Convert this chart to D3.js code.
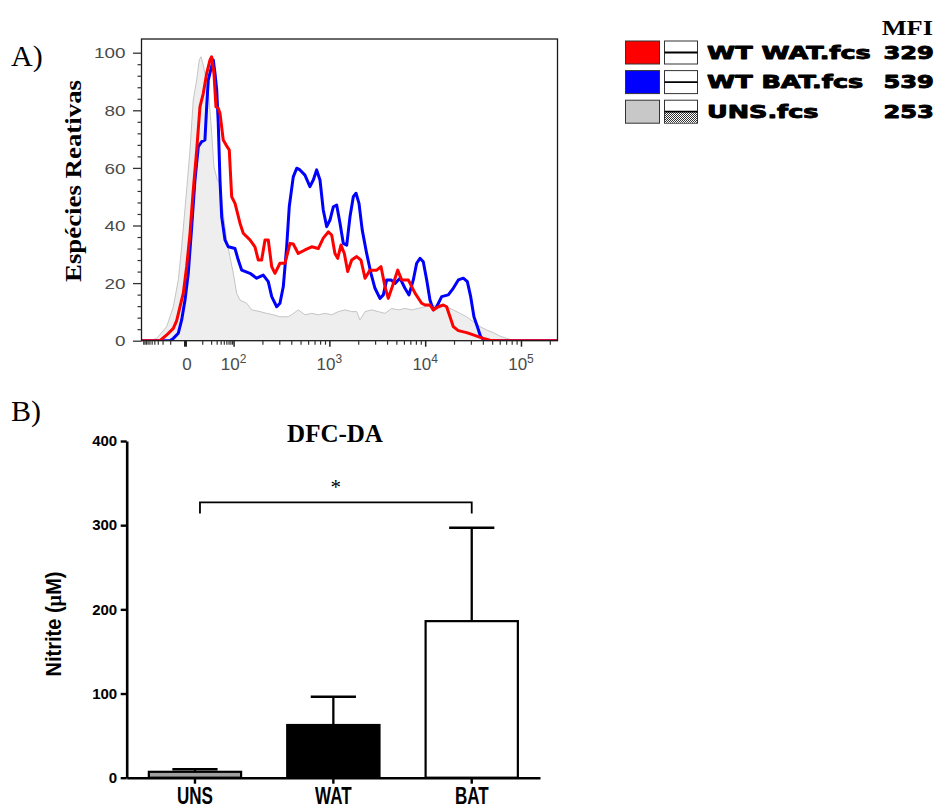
<!DOCTYPE html>
<html><head><meta charset="utf-8">
<script src="https://cdn.jsdelivr.net/npm/d3@7/dist/d3.min.js"></script>
<style>body{margin:0;background:#fff}svg{display:block}</style>
</head><body>
<svg id="chart" width="942" height="809"></svg>
<script>
// ================= DATA =================
// Panel A: flow histograms. x in display decades (10^n -> n, biexponential below 10^2; "0" at 1.493), y = % of max
const watX = [1.044,1.232,1.302,1.371,1.406,1.441,1.475,1.510,1.545,1.579,1.615,1.649,1.684,1.719,1.754,1.771,1.795,1.816,1.840,1.858,1.892,1.921,1.955,1.980,2.015,2.067,2.101,2.171,2.223,2.258,2.293,2.328,2.362,2.398,2.432,2.484,2.537,2.589,2.623,2.675,2.745,2.815,2.884,2.936,2.989,3.024,3.058,3.087,3.121,3.156,3.191,3.233,3.285,3.330,3.372,3.424,3.494,3.539,3.580,3.615,3.657,3.713,3.755,3.824,3.894,3.963,3.998,4.050,4.085,4.137,4.189,4.224,4.259,4.293,4.346,4.433,4.502,4.590,4.676,4.781,5.376];
const watY = [0,0,2,4.3,7,11.8,16.5,25.7,37.3,52.3,66.2,81.2,85.9,92.8,97.5,98.6,92.8,81.2,80.7,79,69.7,68,66.2,50,47.7,40.8,37.3,35,32.6,28,28,35,35,25.7,23.4,26.9,26.9,33.8,33.6,30.3,31.5,32.6,32,35.6,37.8,36.7,30.3,28.6,33.2,30.3,24,28,29.2,28,21.7,24.5,24.5,25.7,18.8,14.7,18.8,24.5,21.1,21.1,16.5,13,12.4,12.4,10.7,11.8,12.4,11.8,8.3,4.9,3.5,2.8,2,1,0.2,0,0];

const batX = [1.044,1.336,1.371,1.423,1.458,1.493,1.527,1.563,1.597,1.632,1.667,1.701,1.719,1.736,1.761,1.788,1.806,1.824,1.840,1.858,1.876,1.910,1.945,2.015,2.049,2.085,2.171,2.241,2.310,2.362,2.398,2.450,2.484,2.519,2.554,2.581,2.623,2.659,2.693,2.745,2.797,2.832,2.867,2.902,2.936,2.972,3.006,3.041,3.076,3.111,3.145,3.181,3.215,3.250,3.278,3.309,3.343,3.389,3.434,3.476,3.528,3.563,3.598,3.643,3.685,3.737,3.789,3.831,3.876,3.911,3.946,3.980,4.016,4.050,4.085,4.120,4.172,4.241,4.293,4.346,4.398,4.440,4.475,4.509,4.544,4.579,4.614,4.676,5.376];
const batY = [0,0,0.8,2.6,7.2,14.1,23.4,39.6,55.8,67.4,69.1,69.7,81.2,90.5,94,97.5,92.8,87,75.5,55.8,43,35,32.6,32,28,24.5,23.4,21.7,22.8,20.5,15.3,11.8,13,18.8,32.6,46.5,56.9,59.9,59.3,57.5,53.5,55.8,59.3,55.8,45.4,39.6,41.9,46.5,47.1,40.8,33.8,33.2,43,50,51.2,47.7,38.4,30.3,23.4,18.2,14.7,15.9,21.1,21.1,19.9,21.7,18.2,15.9,21.1,26.9,28.6,27.4,21.1,14.1,10.7,11.8,15.3,15.9,18.2,21.1,21.7,20.5,15.3,8.3,4.9,1.4,0.2,0,0];

const unsX = [1.044,1.127,1.197,1.302,1.371,1.423,1.458,1.510,1.545,1.579,1.615,1.642,1.660,1.684,1.701,1.736,1.764,1.795,1.830,1.858,1.892,1.928,1.962,1.997,2.032,2.067,2.137,2.189,2.276,2.345,2.414,2.484,2.571,2.606,2.675,2.745,2.815,2.884,2.954,3.024,3.093,3.163,3.233,3.285,3.319,3.372,3.441,3.510,3.580,3.650,3.719,3.789,3.859,3.928,3.998,4.120,4.224,4.293,4.363,4.433,4.502,4.572,4.642,4.711,4.781,4.851,4.920,4.990,5.376];
const unsY = [0,0,0.8,4.9,11.8,21.1,32.6,52.3,66.2,83.6,90.5,97.5,98.6,95.7,92.8,87,75.5,60.4,55.8,54.7,44.2,35,29.2,23.4,16.5,14.1,13,10.7,10.1,9.5,9,8.3,8.3,9,10.7,9,9.5,9,9.5,9,10.1,10.7,10.1,10.1,7.2,10.1,10.7,10.1,9.5,11.2,10.7,11.2,10.7,11.2,11.8,12.4,11.8,10.7,9.5,8.3,6.6,4.9,3.7,2.8,1.6,0.8,0.2,0,0];

const histYTicks = [0, 20, 40, 60, 80, 100];
const histXTickVals = [1.493, 2, 3, 4, 5];
const histXTickBase = ["0", "10", "10", "10", "10"];
const histXTickExp = ["", "2", "3", "4", "5"];

const legendNames = ["WT WAT.fcs", "WT BAT.fcs", "UNS.fcs"];
const legendMFI = ["329", "539", "253"];
const legendColors = ["#ff0000", "#0000ff", "#c8c8c8"];

// Panel B: bar chart
const barCats = ["UNS", "WAT", "BAT"];
const barMeans = [7, 62.6, 186];
const barErr = [3, 33.6, 111];
const barFills = ["#a0a0a0", "#000000", "#ffffff"];
const barYTicks = [0, 100, 200, 300, 400];
const sigPair = ["UNS", "BAT"];
const sigLevels = [327, 314]; // bracket top / leg end
const sigLabel = "*";

// ================= DRAW =================
const svg = d3.select("#chart");
const SERIF = "'Liberation Serif','Times New Roman',serif";
const SANS = "'Liberation Sans',Arial,sans-serif";
const HEAVY = "'DejaVu Sans','Liberation Sans',sans-serif";

function stretch(sel, f) {
  sel.each(function () {
    const w = this.getComputedTextLength();
    d3.select(this).attr("textLength", w * f).attr("lengthAdjust", "spacingAndGlyphs");
  });
}

// ---------- Panel A ----------
const xA = d3.scaleLinear().domain([1.044, 5.376]).range([142, 557]);
const yA = d3.scaleLinear().domain([0, 100]).range([340.7, 52.7]);
const frameTop = 39;

svg.append("defs").append("clipPath").attr("id", "clipA")
  .append("rect").attr("x", xA.range()[0]).attr("y", frameTop)
  .attr("width", xA.range()[1] - xA.range()[0]).attr("height", yA(0) - frameTop);

const pattern = svg.select("defs").append("pattern").attr("id", "dots")
  .attr("width", 2).attr("height", 2).attr("patternUnits", "userSpaceOnUse");
pattern.append("rect").attr("width", 2).attr("height", 2).attr("fill", "#ffffff");
pattern.append("rect").attr("width", 1).attr("height", 1).attr("fill", "#333");
pattern.append("rect").attr("x", 1).attr("y", 1).attr("width", 1).attr("height", 1).attr("fill", "#333");

const plotA = svg.append("g").attr("clip-path", "url(#clipA)");
const unsData = d3.zip(unsX, unsY), batData = d3.zip(batX, batY), watData = d3.zip(watX, watY);

plotA.append("path").datum(unsData)
  .attr("d", d3.area().x(d => xA(d[0])).y0(yA(0)).y1(d => yA(d[1])))
  .attr("fill", "#eeeeee");
plotA.append("path").datum(unsData)
  .attr("d", d3.line().x(d => xA(d[0])).y(d => yA(d[1])))
  .attr("fill", "none").attr("stroke", "#c4c4c4").attr("stroke-width", 1);

const lineA = d3.line().x(d => xA(d[0])).y(d => yA(d[1]));
plotA.append("path").datum(batData).attr("d", lineA)
  .attr("fill", "none").attr("stroke", "#0000ff").attr("stroke-width", 3).attr("stroke-linejoin", "round");
plotA.append("path").datum(watData).attr("d", lineA)
  .attr("fill", "none").attr("stroke", "#ff0000").attr("stroke-width", 3).attr("stroke-linejoin", "round");

// frame
svg.append("rect").attr("x", 141.5).attr("y", frameTop)
  .attr("width", 557.5 - 141.5).attr("height", yA(0) - frameTop)
  .attr("fill", "none").attr("stroke", "#1a1a1a").attr("stroke-width", 1.3);

// y axis (histogram)
const yAxisA = svg.append("g").attr("transform", "translate(141.5,0)")
  .call(d3.axisLeft(yA).tickValues(d3.range(0, 101, 4).filter(v => v % 20 !== 0)).tickSize(4).tickFormat(""));
yAxisA.select(".domain").remove();
yAxisA.selectAll("line").attr("stroke", "#333").attr("stroke-width", 1.2);
const yAxisA2 = svg.append("g").attr("transform", "translate(141.5,0)")
  .call(d3.axisLeft(yA).tickValues(histYTicks).tickSize(8.5).tickPadding(7.5));
yAxisA2.select(".domain").remove();
yAxisA2.selectAll("line").attr("stroke", "#333").attr("stroke-width", 1.3);
yAxisA2.selectAll("text").attr("font-family", SANS).attr("font-size", 14.5).attr("fill", "#4a4a4a").attr("dy", "0.36em");
stretch(yAxisA2.selectAll("text"), 1.3);

// x axis (histogram): minor ticks
const u0 = histXTickVals[0];
const asn = v => Math.asinh(v / 6.5) / Math.asinh(100 / 6.5);
let minorX = [];
for (let v = 10; v <= 90; v += 10) minorX.push(u0 + (2 - u0) * asn(v));
for (let v = 10; v <= 100; v += 10) minorX.push(u0 - 0.86 * (2 - u0) * asn(v));
for (let n = 2; n <= 5; n++) for (let k = 2; k <= 9; k++) {
  const u = Math.log10(k * Math.pow(10, n));
  if (u < xA.domain()[1]) minorX.push(u);
}
const xAxisA = svg.append("g").attr("transform", `translate(0,${yA(0)})`)
  .call(d3.axisBottom(xA).tickValues(minorX).tickSize(4).tickFormat(""));
xAxisA.select(".domain").remove();
xAxisA.selectAll("line").attr("stroke", "#333").attr("stroke-width", 1.2);
const xAxisA2 = svg.append("g").attr("transform", `translate(0,${yA(0)})`)
  .call(d3.axisBottom(xA).tickValues(histXTickVals).tickSize(6).tickFormat(""));
xAxisA2.select(".domain").remove();
xAxisA2.selectAll("line").attr("stroke", "#222").attr("stroke-width", (d, i) => i === 0 ? 3 : 1.5);

const xLab = svg.append("g");
histXTickVals.forEach((u, i) => {
  const t = xLab.append("text").attr("x", xA(u) + (i === 0 ? 2 : 0)).attr("y", 369.5)
    .attr("text-anchor", "middle").attr("font-family", SANS).attr("font-size", 17).attr("fill", "#4a4a4a");
  t.append("tspan").text(histXTickBase[i]);
  if (histXTickExp[i]) t.append("tspan").attr("font-size", 12).attr("dy", -7).text(histXTickExp[i]);
});

// y title
svg.append("text").attr("transform", "translate(81,181) rotate(-90)")
  .attr("text-anchor", "middle").attr("font-family", SERIF).attr("font-weight", "bold")
  .attr("font-size", 23).attr("textLength", 202).attr("lengthAdjust", "spacingAndGlyphs")
  .text("Espécies Reativas");

// panel letters
svg.append("text").attr("x", 11).attr("y", 66).attr("font-family", SERIF).attr("font-size", 30).text("A)");
svg.append("text").attr("x", 11).attr("y", 421).attr("font-family", SERIF).attr("font-size", 30).text("B)");

// legend
const leg = svg.append("g");
const mfiT = leg.append("text").attr("x", 933).attr("y", 35).attr("text-anchor", "end")
  .attr("font-family", SERIF).attr("font-weight", "bold").attr("font-size", 22).text("MFI");
stretch(mfiT, 1.2);
legendNames.forEach((name, i) => {
  const top = 41 + i * 29.6;
  leg.append("rect").attr("x", 625.5).attr("y", top).attr("width", 34).attr("height", 23)
    .attr("fill", legendColors[i]).attr("stroke", "#333").attr("stroke-width", 1);
  leg.append("rect").attr("x", 664.5).attr("y", top).attr("width", 33).attr("height", 23)
    .attr("fill", "#fff").attr("stroke", "#333").attr("stroke-width", 1);
  if (i === 2) {
    leg.append("rect").attr("x", 665).attr("y", top + 11.5).attr("width", 32).attr("height", 11)
      .attr("fill", "url(#dots)");
  }
  leg.append("line").attr("x1", 664.5).attr("x2", 697.5).attr("y1", top + 11.5).attr("y2", top + 11.5)
    .attr("stroke", "#000").attr("stroke-width", 1.8);
  const nt = leg.append("text").attr("x", 707).attr("y", top + 17.5)
    .attr("font-family", HEAVY).attr("font-weight", "bold").attr("font-size", 17)
    .attr("stroke", "#000").attr("stroke-width", 0.9).attr("stroke-linejoin", "round").text(name);
  stretch(nt, 1.5);
  const mt = leg.append("text").attr("x", 883.5).attr("y", top + 17.5)
    .attr("font-family", HEAVY).attr("font-weight", "bold").attr("font-size", 17)
    .attr("stroke", "#000").attr("stroke-width", 0.9).attr("stroke-linejoin", "round").text(legendMFI[i]);
  stretch(mt, 1.42);
});

// ---------- Panel B ----------
const xB = d3.scaleBand().domain(barCats).range([126.7, 540]).paddingInner(0.3333).paddingOuter(0.16);
const yB = d3.scaleLinear().domain([0, 400]).range([777.7, 441]);
const bw = xB.bandwidth();

// title
svg.append("text").attr("x", 335).attr("y", 441.5).attr("text-anchor", "middle")
  .attr("font-family", SERIF).attr("font-weight", "bold").attr("font-size", 25).text("DFC-DA");

// error bars (drawn first)
const eb = svg.append("g");
barCats.forEach((c, i) => {
  const cx = xB(c) + bw / 2;
  eb.append("line").attr("x1", cx).attr("x2", cx).attr("y1", yB(barMeans[i])).attr("y2", yB(barMeans[i] + barErr[i]))
    .attr("stroke", "#000").attr("stroke-width", 2.3);
  eb.append("line").attr("x1", cx - bw * 0.245).attr("x2", cx + bw * 0.245)
    .attr("y1", yB(barMeans[i] + barErr[i])).attr("y2", yB(barMeans[i] + barErr[i]))
    .attr("stroke", "#000").attr("stroke-width", 2.6);
});

// bars
svg.append("g").selectAll("rect").data(barCats).join("rect")
  .attr("x", d => xB(d)).attr("width", bw)
  .attr("y", (d, i) => yB(barMeans[i])).attr("height", (d, i) => yB(0) - yB(barMeans[i]))
  .attr("fill", (d, i) => barFills[i]).attr("stroke", "#000").attr("stroke-width", 2.2);

// axes
const yAxisB = svg.append("g").attr("transform", "translate(126.7,0)")
  .call(d3.axisLeft(yB).tickValues(barYTicks).tickSize(6).tickSizeOuter(0).tickPadding(3.5));
yAxisB.select(".domain").attr("stroke-width", 2.6);
yAxisB.selectAll("line").attr("stroke-width", 2.4);
yAxisB.selectAll("text").attr("font-family", SANS).attr("font-weight", "bold").attr("font-size", 15).attr("fill", "#000");

const xAxisB = svg.append("g").attr("transform", `translate(0,${yB(0)})`)
  .call(d3.axisBottom(xB).tickSize(6).tickSizeOuter(0).tickPadding(4));
xAxisB.select(".domain").attr("stroke-width", 2.6);
xAxisB.selectAll("line").attr("stroke-width", 2.4);
xAxisB.selectAll("text").attr("font-family", SANS).attr("font-weight", "bold").attr("font-size", 23)
  .attr("fill", "#000").attr("dy", null).attr("y", 26.5);
stretch(xAxisB.selectAll("text"), 0.74);

// y title
const nt = svg.append("text").attr("transform", "translate(61,624) rotate(-90)")
  .attr("text-anchor", "middle").attr("font-family", SANS).attr("font-weight", "bold").attr("font-size", 22);
nt.append("tspan").text("Nitrite (");
nt.append("tspan").attr("font-family", SERIF).text("µ");
nt.append("tspan").text("M)");
nt.attr("textLength", 105).attr("lengthAdjust", "spacingAndGlyphs");

// significance bracket
const bx1 = xB(sigPair[0]) + bw / 2 + 5, bx2 = xB(sigPair[1]) + bw / 2;
svg.append("path")
  .attr("d", `M${bx1},${yB(sigLevels[1])}V${yB(sigLevels[0])}H${bx2}V${yB(sigLevels[1])}`)
  .attr("fill", "none").attr("stroke", "#000").attr("stroke-width", 1.8);
svg.append("text").attr("x", (bx1 + bx2) / 2).attr("y", 494).attr("text-anchor", "middle")
  .attr("font-family", SERIF).attr("font-size", 21).text(sigLabel);
</script>
</body></html>
